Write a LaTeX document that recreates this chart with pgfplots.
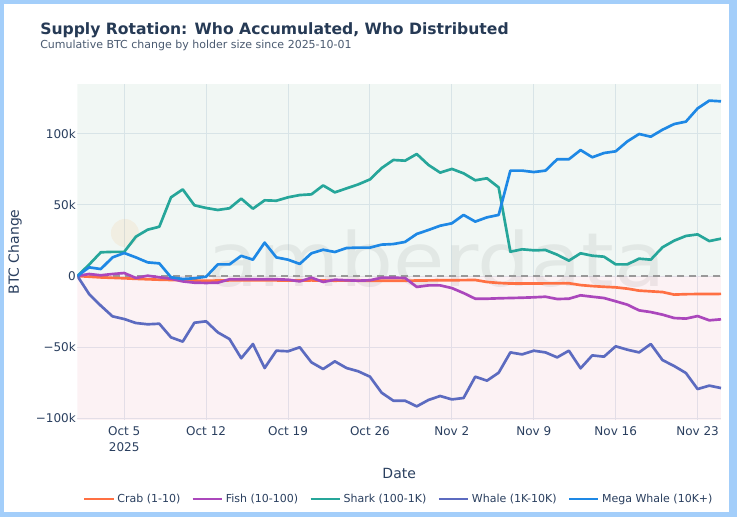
\documentclass[border=0pt]{standalone}
\usepackage{fontspec}
\setmainfont{DejaVu Sans}
\usepackage{pgfplots}
\usepackage{pgfplotstable}
\pgfplotsset{compat=1.18}

\definecolor{crab}{HTML}{FF7043}
\definecolor{fish}{HTML}{AB47BC}
\definecolor{shark}{HTML}{26A69A}
\definecolor{whale}{HTML}{5C6BC0}
\definecolor{mega}{HTML}{1E88E5}
\definecolor{framec}{HTML}{A3CEFA}
\definecolor{ink}{HTML}{2A3F5F}
\definecolor{titlec}{HTML}{263A55}
\definecolor{subc}{HTML}{4A5A70}
\definecolor{gridc}{HTML}{E4EAF1}
\definecolor{postint}{RGB}{80,160,120}
\definecolor{negtint}{RGB}{220,60,100}

% cumulative change in thousands of BTC, day 0 = 2025-10-01
\pgfplotstableread{
day crab fish shark whale mega
0 0 0 0 0 0
1 -0.5 1.4 8.0 -12.7 6.1
2 -1.0 0.5 16.7 -20.9 4.9
3 -1.3 1.4 17.0 -28.4 13.1
4 -1.6 2.1 17.0 -30.3 16.2
5 -2.0 -1.4 27.7 -33.1 13.1
6 -2.3 0.2 32.6 -34.0 9.6
7 -2.6 -0.9 34.7 -33.6 8.9
8 -2.8 -1.9 55.4 -43.2 -0.9
9 -3.0 -3.8 61.0 -46.2 -2.1
10 -3.2 -4.7 49.8 -32.9 -1.6
11 -3.3 -4.9 47.9 -31.9 -0.5
12 -3.2 -4.7 46.5 -39.7 8.2
13 -3.1 -2.3 47.7 -44.4 8.2
14 -3.0 -2.3 54.5 -57.9 14.2
15 -3.1 -2.3 47.4 -47.9 11.5
16 -3.0 -2.3 53.3 -64.8 23.5
17 -3.1 -2.3 53.0 -52.6 13.1
18 -3.2 -2.6 55.4 -53.0 11.5
19 -3.2 -3.8 57.0 -50.2 8.5
20 -3.1 -1.2 57.5 -60.8 16.0
21 -3.2 -4.2 63.8 -65.5 18.5
22 -3.3 -2.6 58.9 -60.1 16.9
23 -3.2 -3.0 61.7 -64.8 19.7
24 -3.3 -3.3 64.5 -67.1 20.0
25 -3.3 -3.0 68.0 -70.9 20.0
26 -3.4 -1.2 76.0 -82.2 22.1
27 -3.4 -1.2 81.7 -87.8 22.5
28 -3.3 -1.4 81.2 -87.8 24.0
29 -3.2 -7.7 85.9 -91.8 29.6
30 -3.1 -6.6 78.2 -87.3 32.4
31 -3.0 -6.6 72.8 -84.5 35.4
32 -3.0 -8.5 75.4 -86.9 37.1
33 -2.9 -12.0 72.3 -85.9 43.0
34 -2.8 -16.0 67.4 -70.9 38.3
35 -4.2 -16.0 68.8 -73.7 41.3
36 -4.9 -15.7 62.4 -68.1 43.0
37 -5.3 -15.5 17.1 -53.8 74.2
38 -5.3 -15.3 18.8 -55.2 74.2
39 -5.3 -15.0 18.1 -52.6 73.2
40 -5.2 -14.6 18.3 -53.8 74.2
41 -5.2 -16.2 15.0 -57.3 82.2
42 -5.1 -16.0 10.8 -52.6 82.2
43 -6.4 -13.6 16.0 -65.0 88.7
44 -7.1 -14.6 14.3 -55.9 83.6
45 -7.6 -15.5 13.6 -56.8 86.6
46 -8.0 -17.8 8.2 -49.5 87.8
47 -8.9 -20.2 8.2 -51.9 94.8
48 -10.3 -24.2 12.2 -53.8 100.0
49 -10.8 -25.4 11.5 -47.9 98.1
50 -11.3 -27.2 20.2 -59.2 103.0
51 -13.1 -29.6 24.9 -63.4 107.0
52 -12.8 -30.0 28.2 -68.3 108.7
53 -12.7 -28.2 29.3 -79.6 118.0
54 -12.7 -31.2 24.6 -77.2 123.5
55 -12.6 -30.5 26.3 -78.9 123.0
}\flows

\begin{document}
\begin{tikzpicture}
\path[use as bounding box] (0,0) rectangle (552.75pt,-387.75pt);
\fill[framec] (0,0) rectangle (552.75pt,-387.75pt);
\fill[white] (3pt,-3pt) rectangle (546.75pt,-384pt);

\node[anchor=base west, inner sep=0, text=titlec,
      font=\bfseries\fontsize{11.7}{14}\selectfont] at (30pt,-26.25pt)
  {Supply Rotation: Who Accumulated, Who Distributed};
\node[anchor=base west, inner sep=0, text=subc,
      font=\fontsize{8.25}{10}\selectfont] at (30pt,-36.2pt)
  {Cumulative BTC change by holder size since 2025-10-01};

\begin{axis}[
    at={(58.05pt,-63pt)}, anchor=north west,
    width=482.7pt, height=252pt, scale only axis,
    xmin=0, xmax=55, ymin=-101.4, ymax=135.2,
    axis line style={draw=none},
    major tick length=0pt,
    grid=major,
    grid style={gridc, line width=0.75pt},
    xtick={4,11,18,25,32,39,46,53},
    xticklabels={{Oct 5\\2025},{Oct 12},{Oct 19},{Oct 26},{Nov 2},{Nov 9},{Nov 16},{Nov 23}},
    ytick={-100,-50,0,50,100},
    yticklabels={−100k,−50k,0,50k,100k},
    ticklabel style={font=\fontsize{9}{12}\selectfont, text=ink},
    xticklabel style={align=center, anchor=north, inner sep=0pt, yshift=-5pt},
    yticklabel style={inner sep=1pt},
    xlabel={Date},
    ylabel={BTC Change},
    label style={font=\fontsize{10.5}{12}\selectfont, text=ink},
    xlabel style={at={(axis description cs:0.5,-0.158)}, anchor=center},
    ylabel style={at={(axis description cs:-0.097,0.5)}, anchor=center},
    legend columns=5,
    legend cell align=left,
    legend style={at={(axis description cs:0.5,-0.235)}, anchor=center,
        draw=none, fill=none, inner sep=0pt,
        font=\fontsize{8.25}{10}\selectfont, text=ink,
        /tikz/every even column/.append style={column sep=6.5pt}},
    legend image code/.code={\draw[#1, line width=1.6pt] (0pt,0pt) -- (22pt,0pt);},
    every axis plot/.append style={no marks, line width=2pt, line join=round},
]
% tinted halves (translucent, so the grid stays visible)
\fill[postint, opacity=0.08] (axis cs:0,0) rectangle (axis cs:55,135.2);
\fill[negtint, opacity=0.065] (axis cs:0,-101.4) rectangle (axis cs:55,0);

% faint watermark
\fill[orange, opacity=0.07] (axis cs:4.06,30.3) circle (10.5pt);
\node[anchor=base, inner sep=0, text=black, opacity=0.06, xscale=1.12,
      font=\fontsize{56}{56}\selectfont] at (axis cs:30.7,-7.7) {amberdata};

\draw[black!40, line width=1.2pt, dash pattern=on 5.25pt off 3.75pt]
  (axis cs:0,0) -- (axis cs:55,0);

\addplot[crab]  table[x=day, y=crab]  {\flows};
\addplot[fish]  table[x=day, y=fish]  {\flows};
\addplot[shark] table[x=day, y=shark] {\flows};
\addplot[whale] table[x=day, y=whale] {\flows};
\addplot[mega]  table[x=day, y=mega]  {\flows};
\legend{Crab (1-10),Fish (10-100),Shark (100-1K),Whale (1K-10K),Mega Whale (10K+)}
\end{axis}
\end{tikzpicture}
\end{document}
